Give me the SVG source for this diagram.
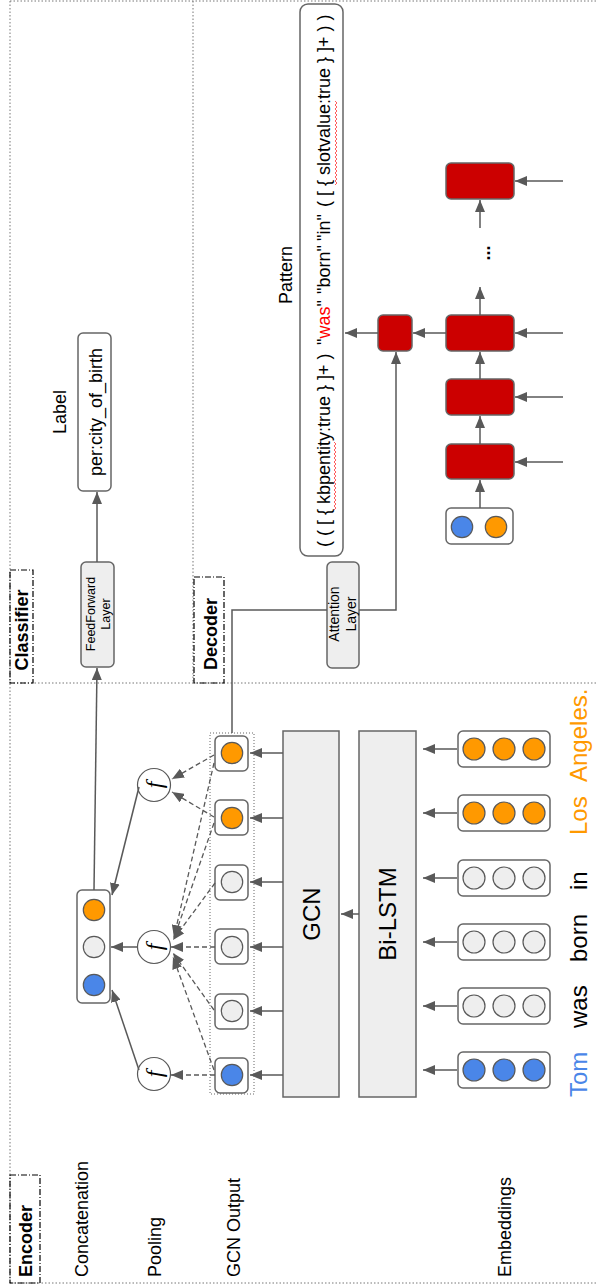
<svg xmlns="http://www.w3.org/2000/svg" width="598" height="1287" viewBox="0 0 598 1287">
<style>
text{font-family:"Liberation Sans",Arial,sans-serif;fill:#000}
.lbl{font-size:18px}
.hdr{font-size:18px;font-weight:bold}
.word{font-size:24px}
.fn{font-family:"Liberation Serif","DejaVu Serif",serif;font-style:italic;font-size:24px}
.sec{fill:none;stroke:#777;stroke-width:1;stroke-dasharray:1.5 2}
.dd{fill:none;stroke:#000;stroke-width:1.2;stroke-dasharray:6 2 1 2}
.box{fill:#fff;stroke:#666;stroke-width:1.5}
.gbox{fill:#eee;stroke:#666;stroke-width:1.5}
.red{fill:#cc0000;stroke:#666;stroke-width:1.5}
.cb{fill:#4a86e8;stroke:#595959;stroke-width:1.2}
.co{fill:#ff9900;stroke:#595959;stroke-width:1.2}
.cg{fill:#eee;stroke:#595959;stroke-width:1.2}
.fc{fill:#fff;stroke:#595959;stroke-width:1.2}
.ln{fill:none;stroke:#595959;stroke-width:1.5}
.ar{fill:none;stroke:#595959;stroke-width:1.5;marker-end:url(#ah)}
.da{fill:none;stroke:#595959;stroke-width:1.3;stroke-dasharray:5 3;marker-end:url(#ah)}
.sq{fill:none;stroke:#ff3333;stroke-width:0.8}
</style>
<defs>
<marker id="ah" viewBox="0 0 12 10" refX="12" refY="5" markerWidth="12" markerHeight="10" markerUnits="userSpaceOnUse" orient="auto">
<path d="M0,0 L12,5 L0,10 z" fill="#595959"/>
</marker>
</defs>

<g id="sections">
<path class="sec" d="M10,1 H598 M10,1 V1283 M10,1283 H598 M10,683 H598 M193,1 V683"/>
<rect class="dd" x="10" y="1175" width="30" height="108"/>
<rect class="dd" x="10" y="570" width="23" height="113"/>
<rect class="dd" x="194" y="577" width="30" height="106"/>
<text class="hdr" transform="translate(32,1277) rotate(-90)">Encoder</text>
<text class="hdr" transform="translate(28,630) rotate(-90)" text-anchor="middle">Classifier</text>
<text class="hdr" transform="translate(217,634) rotate(-90)" text-anchor="middle">Decoder</text>
</g>

<g id="row-labels">
<text class="lbl" transform="translate(88,1277) rotate(-90)">Concatenation</text>
<text class="lbl" transform="translate(161,1277) rotate(-90)">Pooling</text>
<text class="lbl" transform="translate(240,1277) rotate(-90)">GCN Output</text>
<text class="lbl" transform="translate(511,1277) rotate(-90)">Embeddings</text>
<text class="lbl" transform="translate(66,412) rotate(-90)" text-anchor="middle">Label</text>
<text class="lbl" transform="translate(292,275) rotate(-90)" text-anchor="middle">Pattern</text>
</g>

<g id="words">
<text class="word" transform="translate(587,1097) rotate(-90)" style="fill:#4a86e8">Tom</text>
<text class="word" transform="translate(587,1028) rotate(-90)">was</text>
<text class="word" transform="translate(587,962) rotate(-90)">born</text>
<text class="word" transform="translate(587,890) rotate(-90)">in</text>
<text class="word" transform="translate(587,835) rotate(-90)" style="fill:#ff9900">Los</text>
<text class="word" transform="translate(587,782) rotate(-90)" style="fill:#ff9900">Angeles.</text>
</g>

<g id="embeddings">
<rect class="box" x="458" y="731" width="92" height="36" rx="5"/>
<circle class="co" cx="474" cy="749" r="11"/><circle class="co" cx="504" cy="749" r="11"/><circle class="co" cx="534" cy="749" r="11"/>
<rect class="box" x="458" y="795" width="92" height="36" rx="5"/>
<circle class="co" cx="474" cy="813" r="11"/><circle class="co" cx="504" cy="813" r="11"/><circle class="co" cx="534" cy="813" r="11"/>
<rect class="box" x="458" y="860" width="92" height="36" rx="5"/>
<circle class="cg" cx="474" cy="878" r="11"/><circle class="cg" cx="504" cy="878" r="11"/><circle class="cg" cx="534" cy="878" r="11"/>
<rect class="box" x="458" y="924" width="92" height="36" rx="5"/>
<circle class="cg" cx="474" cy="942" r="11"/><circle class="cg" cx="504" cy="942" r="11"/><circle class="cg" cx="534" cy="942" r="11"/>
<rect class="box" x="458" y="988" width="92" height="36" rx="5"/>
<circle class="cg" cx="474" cy="1006" r="11"/><circle class="cg" cx="504" cy="1006" r="11"/><circle class="cg" cx="534" cy="1006" r="11"/>
<rect class="box" x="458" y="1052" width="92" height="36" rx="5"/>
<circle class="cb" cx="474" cy="1070" r="11"/><circle class="cb" cx="504" cy="1070" r="11"/><circle class="cb" cx="534" cy="1070" r="11"/>
</g>

<g id="bilstm">
<rect class="gbox" x="359" y="731" width="57" height="366"/>
<text class="word" transform="translate(396,914) rotate(-90)" text-anchor="middle">Bi-LSTM</text>
</g>

<g id="gcn">
<rect class="gbox" x="283" y="731" width="56" height="366"/>
<text class="word" transform="translate(320,914) rotate(-90)" text-anchor="middle">GCN</text>
</g>

<g id="gcn-output">
<rect x="210" y="733" width="44" height="361" fill="none" stroke="#666" stroke-width="1" stroke-dasharray="1 2"/>
<rect class="box" x="215" y="736" width="33" height="35" rx="5"/><circle class="co" cx="232" cy="753" r="10.7"/>
<rect class="box" x="215" y="800" width="33" height="35" rx="5"/><circle class="co" cx="232" cy="818" r="10.7"/>
<rect class="box" x="215" y="865" width="33" height="35" rx="5"/><circle class="cg" cx="232" cy="882" r="10.7"/>
<rect class="box" x="215" y="929" width="33" height="35" rx="5"/><circle class="cg" cx="232" cy="947" r="10.7"/>
<rect class="box" x="215" y="994" width="33" height="35" rx="5"/><circle class="cg" cx="232" cy="1011" r="10.7"/>
<rect class="box" x="215" y="1058" width="33" height="35" rx="5"/><circle class="cb" cx="232" cy="1075" r="10.7"/>
</g>

<g id="pooling">
<circle class="fc" cx="154" cy="785" r="16.5"/>
<text class="fn" transform="translate(154,785) rotate(-90)" text-anchor="middle" dominant-baseline="central">f</text>
<circle class="fc" cx="154" cy="947" r="16.5"/>
<text class="fn" transform="translate(154,947) rotate(-90)" text-anchor="middle" dominant-baseline="central">f</text>
<circle class="fc" cx="154" cy="1074" r="16.5"/>
<text class="fn" transform="translate(154,1074) rotate(-90)" text-anchor="middle" dominant-baseline="central">f</text>
</g>

<g id="concatenation">
<rect class="box" x="77" y="890" width="33" height="113" rx="5"/>
<circle class="co" cx="94" cy="910" r="10.7"/>
<circle class="cg" cx="94" cy="947" r="10.7"/>
<circle class="cb" cx="94" cy="985" r="10.7"/>
</g>

<g id="feedforward">
<rect class="gbox" x="81" y="562" width="33" height="105" rx="5"/>
<text transform="translate(95,614) rotate(-90)" text-anchor="middle" style="font-size:12.5px">FeedForward</text>
<text transform="translate(109.5,614) rotate(-90)" text-anchor="middle" style="font-size:12.5px">Layer</text>
</g>

<g id="label">
<rect class="box" x="78" y="333" width="33" height="158" rx="5"/>
<text class="lbl" transform="translate(102,412) rotate(-90)" text-anchor="middle">per:city_of_birth</text>
</g>

<g id="attention">
<rect class="gbox" x="327" y="562" width="32" height="106" rx="5"/>
<text transform="translate(339,614) rotate(-90)" text-anchor="middle" style="font-size:14px">Attention</text>
<text transform="translate(356,614) rotate(-90)" text-anchor="middle" style="font-size:14px">Layer</text>
</g>

<g id="pattern">
<rect class="box" x="300" y="4" width="43" height="552" rx="8"/>
<text class="lbl" transform="translate(330,0) rotate(-90)"><tspan x="-547">( ( [ { kbpentity:true } ]+ )</tspan><tspan x="-345">"</tspan><tspan style="fill:#ff0000">was</tspan><tspan>"</tspan><tspan x="-294">"born"</tspan><tspan x="-241">"in"</tspan><tspan x="-207">( [ { slotvalue:true } ]+ ) )</tspan></text>
<path class="sq" d="M334,510 l2,-2 l-2,-2 l2,-2 l-2,-2 l2,-2 l-2,-2 l2,-2 l-2,-2 l2,-2 l-2,-2 l2,-2 l-2,-2 l2,-2 l-2,-2 l2,-2 l-2,-2 l2,-2 l-2,-2 l2,-2 l-2,-2 l2,-2 l-2,-2 l2,-2 l-2,-2 l2,-2 l-2,-2 l2,-2 l-2,-2 l2,-2 l-2,-2 l2,-2 l-2,-2 l2,-2 l-2,-2"/>
<path class="sq" d="M335,185 l2,-2 l-2,-2 l2,-2 l-2,-2 l2,-2 l-2,-2 l2,-2 l-2,-2 l2,-2 l-2,-2 l2,-2 l-2,-2 l2,-2 l-2,-2 l2,-2 l-2,-2 l2,-2 l-2,-2 l2,-2 l-2,-2 l2,-2 l-2,-2 l2,-2 l-2,-2 l2,-2 l-2,-2 l2,-2 l-2,-2 l2,-2 l-2,-2 l2,-2 l-2,-2 l2,-2 l-2,-2 l2,-2 l-2,-2 l2,-2 l-2,-2 l2,-2 l-2,-2 l2,-2 l-2,-2"/>
</g>

<g id="decoder-rnn">
<rect class="box" x="446" y="508" width="67" height="36" rx="5"/>
<circle class="cb" cx="462" cy="527" r="10.7"/>
<circle class="co" cx="496" cy="527" r="10.7"/>
<rect class="red" x="446" y="444" width="68" height="35" rx="5"/>
<rect class="red" x="446" y="379" width="68" height="36" rx="5"/>
<rect class="red" x="446" y="315" width="68" height="36" rx="5"/>
<rect class="red" x="446" y="163" width="68" height="36" rx="5"/>
<rect class="red" x="378" y="315" width="34" height="36" rx="5"/>
<text class="lbl" transform="translate(490,253) rotate(-90)" text-anchor="middle" style="font-weight:bold">...</text>
</g>

<g id="connectors">
<path class="ar" d="M457,749 H423"/>
<path class="ar" d="M457,813 H423"/>
<path class="ar" d="M457,878 H423"/>
<path class="ar" d="M457,942 H423"/>
<path class="ar" d="M457,1006 H423"/>
<path class="ar" d="M457,1070 H423"/>
<path class="ar" d="M359,914 H341"/>
<path class="ar" d="M283,753 H250"/>
<path class="ar" d="M283,818 H250"/>
<path class="ar" d="M283,882 H250"/>
<path class="ar" d="M283,947 H250"/>
<path class="ar" d="M283,1011 H250"/>
<path class="ar" d="M283,1075 H250"/>
<path class="da" d="M214,755 L172,779"/>
<path class="da" d="M214,817 L172,792"/>
<path class="da" d="M214,763 L174,937"/>
<path class="da" d="M214,823 L174,938"/>
<path class="da" d="M215,883 L173,940"/>
<path class="da" d="M215,947 H171"/>
<path class="da" d="M214,1010 L173,953"/>
<path class="da" d="M214,1070 L173,957"/>
<path class="da" d="M215,1075 H171"/>
<path class="ar" d="M138,947 H111"/>
<path class="ar" d="M139,1070 L112,990"/>
<path class="ar" d="M139,787 L112,895"/>
<path class="ar" d="M94,890 L97,668"/>
<path class="ar" d="M97,562 V492"/>
<path class="ln" d="M232,733 V610 H327"/>
<path class="ar" d="M359,610 H396 V352"/>
<path class="ar" d="M378,333 H345"/>
<path class="ar" d="M446,333 H413"/>
<path class="ar" d="M480,508 V480"/>
<path class="ar" d="M480,444 V416"/>
<path class="ar" d="M480,379 V352"/>
<path class="ar" d="M480,315 V287"/>
<path class="ar" d="M480,228 V200"/>
<path class="ar" d="M563,181 H515"/>
<path class="ar" d="M563,333 H515"/>
<path class="ar" d="M563,397 H515"/>
<path class="ar" d="M563,462 H515"/>
</g>
</svg>
